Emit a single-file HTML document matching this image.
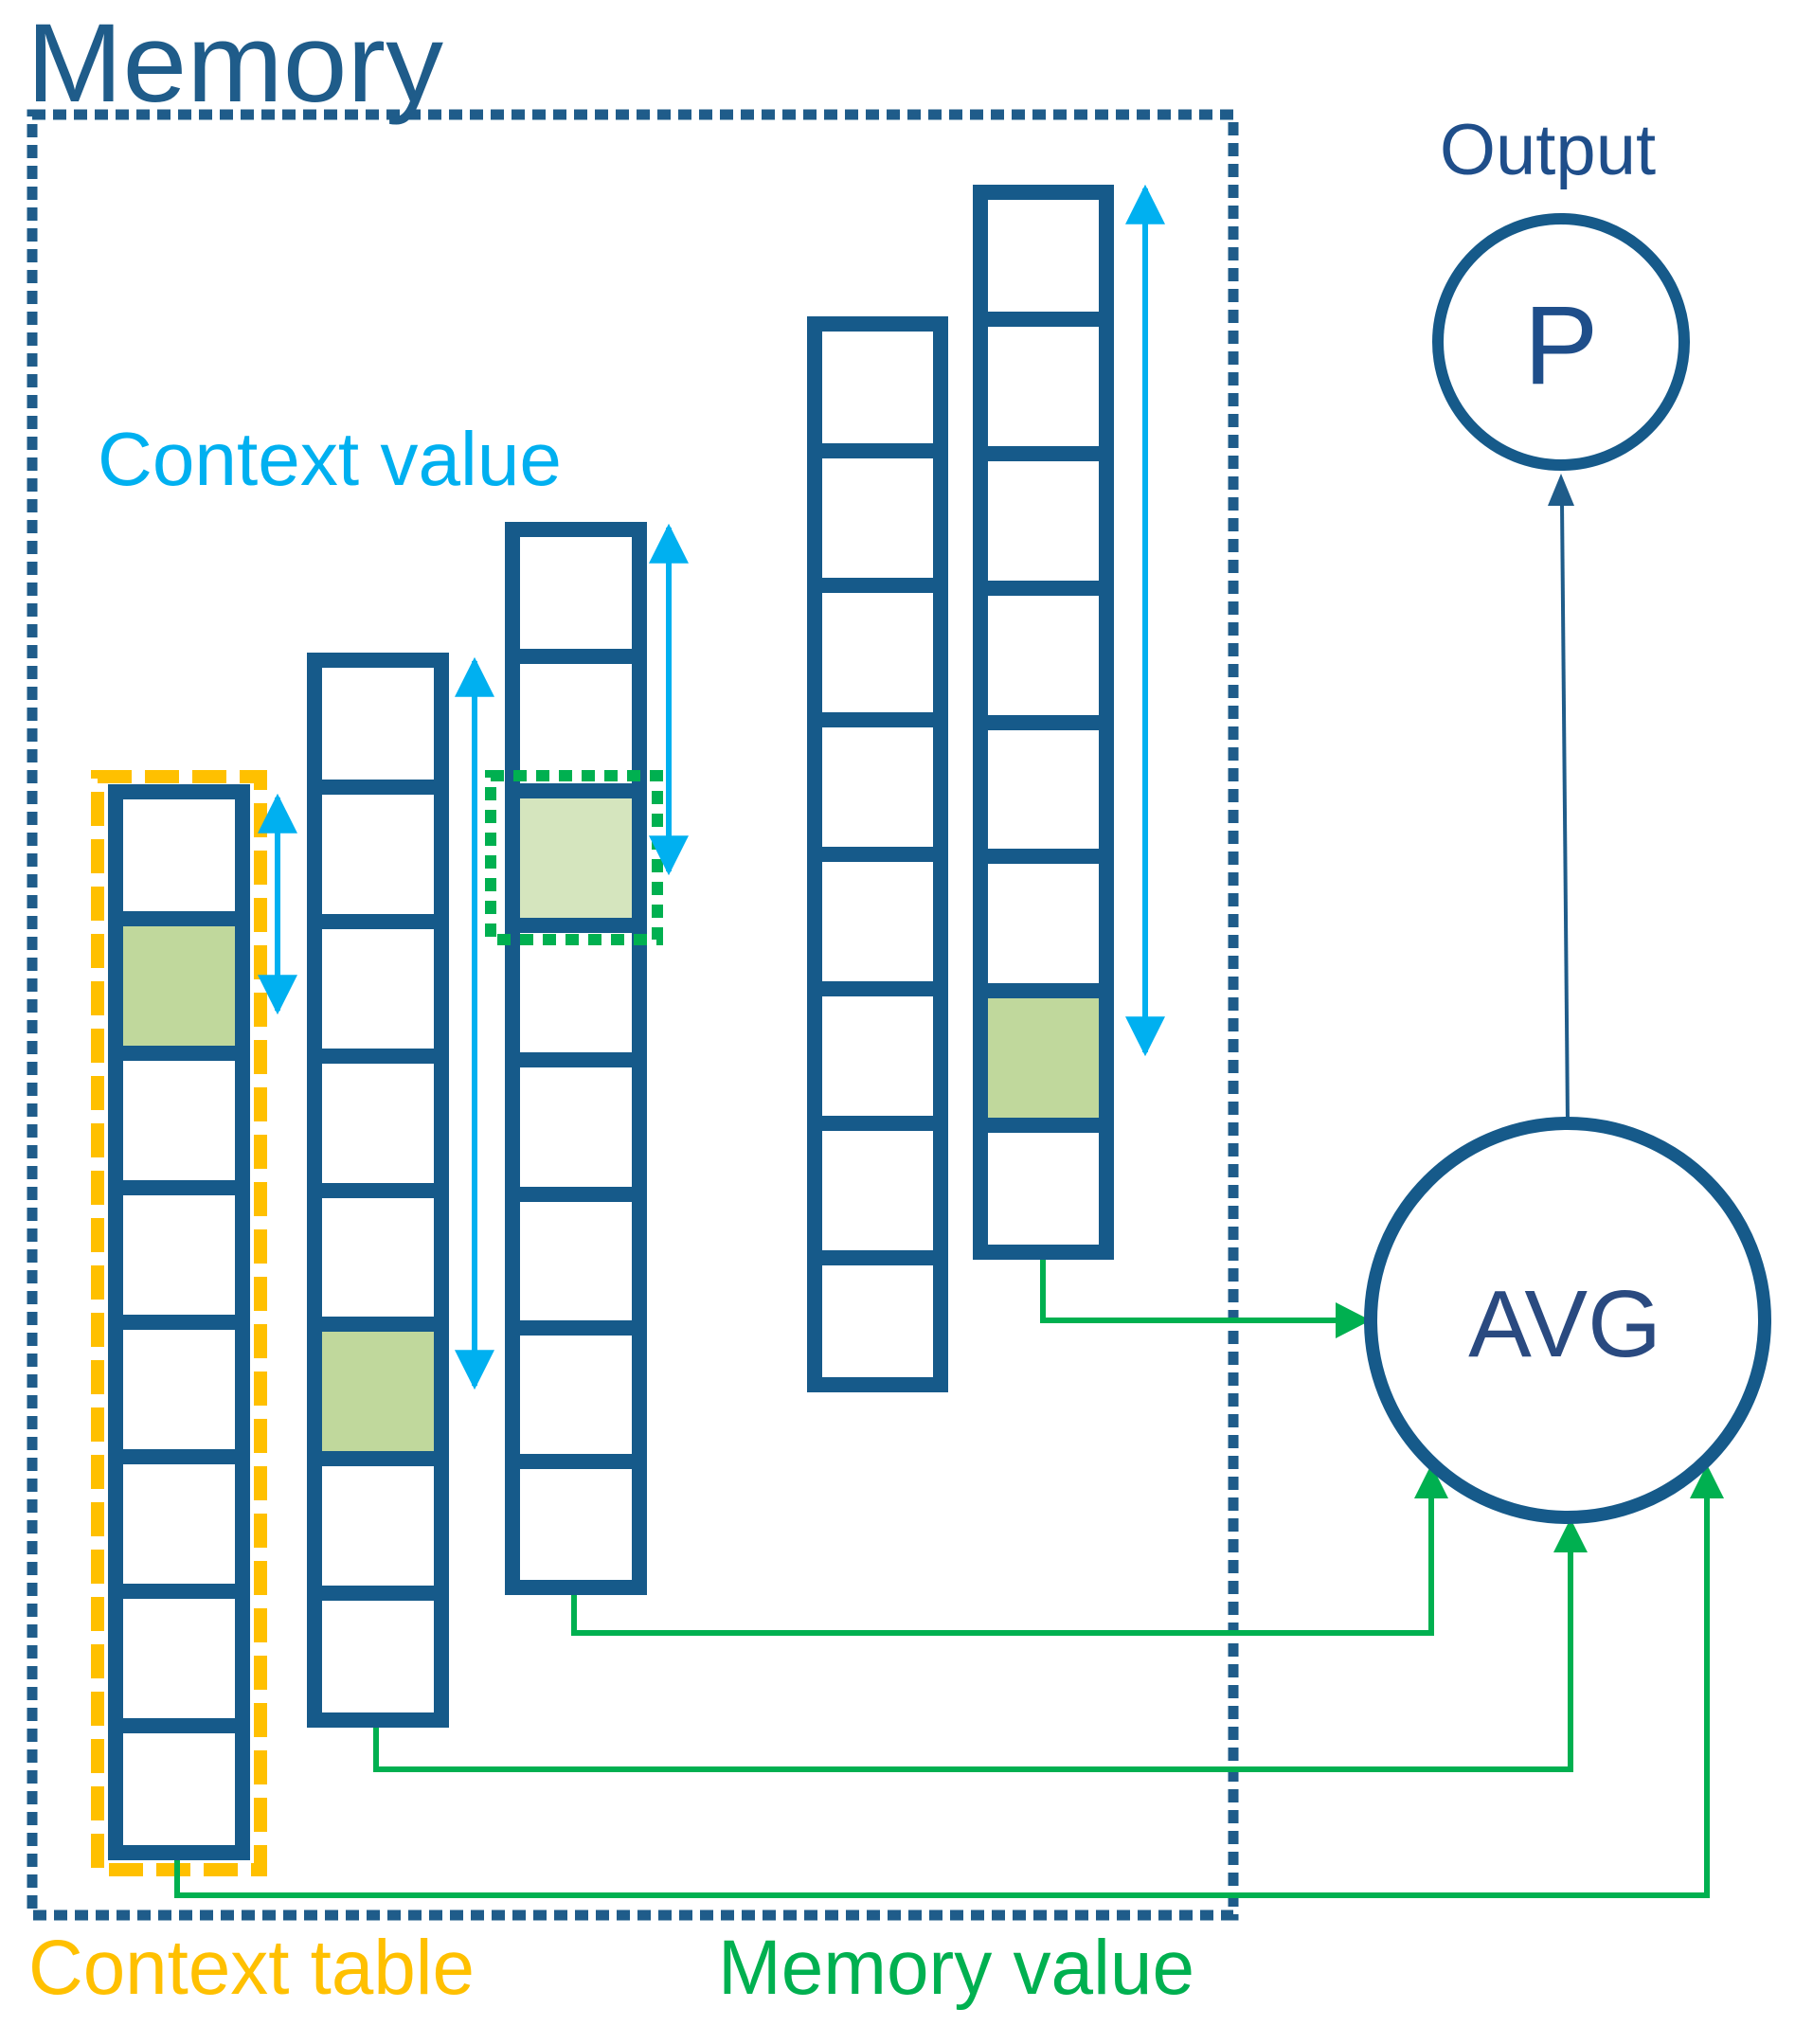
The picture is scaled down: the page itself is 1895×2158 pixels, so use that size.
<!DOCTYPE html>
<html><head><meta charset="utf-8"><style>
html,body{margin:0;padding:0;background:#fff;}
svg{display:block;}
</style></head><body>
<svg width="1895" height="2158" viewBox="0 0 1895 2158" xmlns="http://www.w3.org/2000/svg" font-family="Liberation Sans, sans-serif">
<defs>
<marker id="cy" viewBox="0 0 10 10" refX="9" refY="5" markerWidth="7" markerHeight="7" markerUnits="strokeWidth" orient="auto-start-reverse"><path d="M0,0 L10,5 L0,10 z" fill="#00b0f0"/></marker>
</defs>
<rect x="34" y="121" width="1268" height="1901" fill="none" stroke="#1f5c8a" stroke-width="11" stroke-dasharray="14 8"/>
<text x="28" y="107" font-size="118" fill="#1f5c8a" textLength="440" lengthAdjust="spacingAndGlyphs">Memory</text>

<rect x="121" y="970" width="136" height="142" fill="#c0d89c"/>
<rect x="331" y="1398" width="136" height="142" fill="#c0d89c"/>
<rect x="540" y="835" width="136" height="142" fill="#d5e5be"/>
<rect x="1034" y="1046" width="136" height="142" fill="#c0d89c"/>

<g fill="none" stroke="#165a8a" stroke-width="16">
<rect x="122" y="836" width="134" height="1120"/>
<path d="M114 970H264M114 1112H264M114 1254H264M114 1396H264M114 1538H264M114 1680H264M114 1822H264"/>
<rect x="332" y="697" width="134" height="1119"/>
<path d="M324 831H474M324 973H474M324 1115H474M324 1257H474M324 1398H474M324 1540H474M324 1682H474"/>
<rect x="541" y="559" width="134" height="1117"/>
<path d="M533 693H683M533 835H683M533 977H683M533 1119H683M533 1261H683M533 1402H683M533 1543H683"/>
<rect x="860" y="342" width="133" height="1120"/>
<path d="M852 476H1001M852 618H1001M852 760H1001M852 902H1001M852 1044H1001M852 1186H1001M852 1328H1001"/>
<rect x="1035" y="203" width="133" height="1119"/>
<path d="M1027 337H1176M1027 479H1176M1027 621H1176M1027 763H1176M1027 904H1176M1027 1046H1176M1027 1188H1176"/>
</g>

<rect x="103" y="820" width="172" height="1154" fill="none" stroke="#ffc000" stroke-width="14" stroke-dasharray="36 14"/>
<rect x="518" y="819" width="176" height="173" fill="none" stroke="#00b050" stroke-width="12" stroke-dasharray="14 10"/>

<g stroke="#00b0f0" stroke-width="6" fill="none" marker-start="url(#cy)" marker-end="url(#cy)">
<line x1="293" y1="842" x2="293" y2="1067"/>
<line x1="501" y1="698" x2="501" y2="1463"/>
<line x1="706" y1="557" x2="706" y2="920"/>
<line x1="1209" y1="199" x2="1209" y2="1111"/>
</g>

<g stroke="#00b050" stroke-width="6" fill="none">
<path d="M1101 1330V1394H1420"/>
<path d="M606 1684V1724H1511V1578"/>
<path d="M397 1824V1868H1658V1635"/>
<path d="M187 1964V2001H1802V1578"/>
</g>
<g fill="#00b050">
<path d="M1447 1394L1410 1375L1410 1413z"/>
<path d="M1511 1546L1493 1582L1529 1582z"/>
<path d="M1658 1603L1640 1639L1676 1639z"/>
<path d="M1802 1546L1784 1582L1820 1582z"/>
</g>

<line x1="1655" y1="1186" x2="1649" y2="530" stroke="#1f5c8a" stroke-width="4"/>
<path d="M1648 500L1634 534L1662 534z" fill="#1f5c8a"/>

<circle cx="1648" cy="361" r="130" fill="none" stroke="#165a8a" stroke-width="12"/>
<circle cx="1655" cy="1394" r="208" fill="none" stroke="#165a8a" stroke-width="14"/>
<text x="1648" y="405" font-size="118" fill="#1f4e8a" text-anchor="middle">P</text>
<text x="1652" y="1432" font-size="100" fill="#2a4a80" text-anchor="middle">AVG</text>
<text x="1634" y="184" font-size="76" fill="#1f4e8a" text-anchor="middle">Output</text>

<text x="103" y="512" font-size="80" fill="#00b0f0" textLength="490" lengthAdjust="spacingAndGlyphs">Context value</text>
<text x="30" y="2105" font-size="82" fill="#ffc000" textLength="471" lengthAdjust="spacingAndGlyphs">Context table</text>
<text x="758" y="2105" font-size="82" fill="#00b050" textLength="503" lengthAdjust="spacingAndGlyphs">Memory value</text>
</svg>
</body></html>
